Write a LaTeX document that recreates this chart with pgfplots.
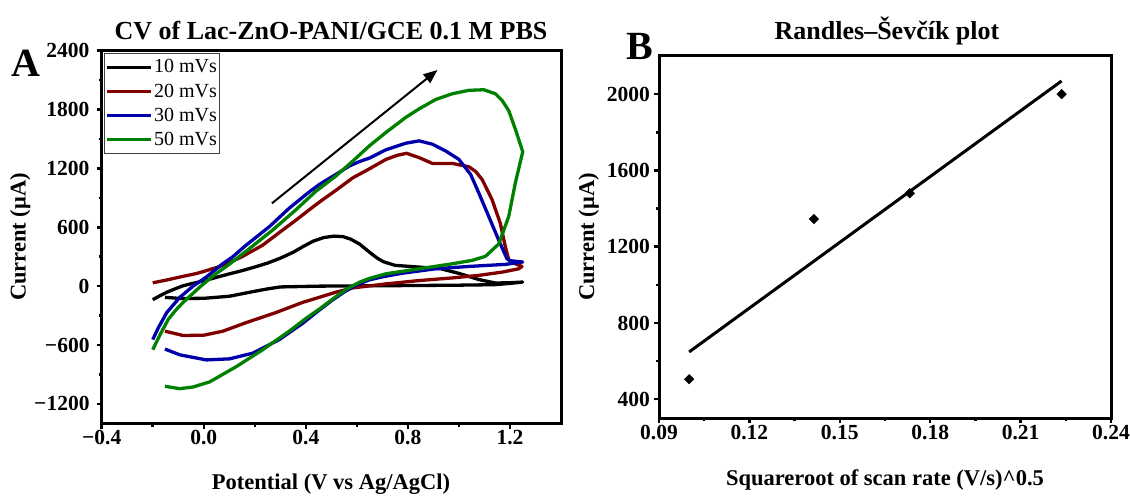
\documentclass[border=0pt]{standalone}
\usepackage{fontspec}
\setmainfont{Liberation Serif}
\usepackage{pgfplots}
\pgfplotsset{compat=1.18}
\usetikzlibrary{arrows.meta}

\definecolor{cvred}{RGB}{128,0,0}
\definecolor{cvblue}{RGB}{0,0,170}
\definecolor{cvgreen}{RGB}{0,128,0}

\pgfplotsset{
  panel/.style={
    scale only axis, anchor=south west,
    axis line style={line width=3pt},
    tick align=outside, xtick pos=bottom, ytick pos=left,
    major tick length=5pt, minor tick length=3pt,
    tick style={line width=2.5pt, black},
    minor tick num=1,
    tick label style={font=\fontsize{21.5}{21.5}\selectfont\bfseries, inner sep=2pt},
  },
}

\begin{document}
\begin{tikzpicture}[x=1pt,y=1pt]
\path (0,0) rectangle (1130,496);

% ---- A: cyclic voltammograms
\begin{axis}[panel,
  at={(101.7pt,72.5pt)}, width=459.3pt, height=372.8pt,
  xmin=-0.4, xmax=1.4, ymin=-1400, ymax=2400,
  xtick={-0.4,0,0.4,0.8,1.2}, xticklabels={−0.4,0.0,0.4,0.8,1.2},
  ytick={-1200,-600,0,600,1200,1800,2400},
  yticklabels={−1200,−600,0,600,1200,1800,2400},
  yticklabel style={xshift=-5pt},
  legend style={at={(0,1)}, anchor=north west, xshift=2.5pt, yshift=-2pt,
    draw=black!75, line width=0.8pt, inner xsep=1pt, inner ysep=5pt,
    font=\fontsize{20}{20}\selectfont, row sep=6.5pt,
    nodes={inner sep=1.5pt}},
  legend cell align=left,
  legend image code/.code={\draw[#1, line width=3pt] (0pt,0pt) -- (44pt,0pt);},
]
\addplot[black, line width=3.3pt, line join=round] coordinates {
(-0.200,-138) (-0.170,-95) (-0.145,-62) (-0.110,-25) (-0.080,5) (-0.040,30)
(0.000,55) (0.050,90) (0.100,125) (0.150,158) (0.200,195) (0.250,235)
(0.300,285) (0.350,345) (0.390,405) (0.430,460) (0.470,495) (0.510,510)
(0.545,505) (0.575,480) (0.610,430) (0.650,345) (0.680,285) (0.705,248)
(0.750,212) (0.840,195) (0.930,177) (1.000,130) (1.080,66) (1.143,32)
(1.200,35) (1.250,42)
(1.200,28) (1.140,15) (1.000,10) (0.800,6) (0.600,3) (0.450,0) (0.300,-8)
(0.250,-28) (0.200,-52) (0.100,-103) (0.000,-124) (-0.090,-126) (-0.152,-114)};
\addlegendentry{10 mVs}
\addplot[cvred, line width=3.3pt, line join=round] coordinates {
(-0.200,34) (-0.150,60) (-0.094,93) (-0.030,128) (0.000,150) (0.050,190)
(0.100,240) (0.150,300) (0.231,418) (0.309,572) (0.360,670) (0.413,778)
(0.460,870) (0.517,975) (0.584,1104) (0.649,1196) (0.714,1292) (0.760,1335)
(0.795,1354) (0.844,1310) (0.896,1251) (0.974,1251) (1.039,1217) (1.065,1170)
(1.091,1087) (1.130,881) (1.162,641) (1.182,401) (1.195,270) (1.210,240)
(1.247,201)
(1.234,177) (1.169,143) (1.078,110) (0.974,84) (0.844,57) (0.714,23)
(0.584,-18) (0.517,-62) (0.455,-112) (0.387,-166) (0.283,-269) (0.166,-372)
(0.075,-459) (0.000,-500) (-0.081,-503) (-0.152,-459)};
\addlegendentry{20 mVs}
\addplot[cvblue, line width=3.3pt, line join=round] coordinates {
(-0.200,-545) (-0.178,-424) (-0.145,-269) (-0.094,-114) (-0.042,0) (0.010,93)
(0.075,230) (0.114,300) (0.166,418) (0.257,606) (0.335,795) (0.413,960)
(0.455,1040) (0.517,1138) (0.571,1225) (0.610,1270) (0.649,1305) (0.714,1390)
(0.792,1457) (0.844,1481) (0.896,1447) (0.948,1378) (1.000,1292) (1.046,1138)
(1.078,949) (1.117,709) (1.156,469) (1.188,280) (1.200,260) (1.234,250)
(1.250,246)
(1.182,222) (1.039,201) (0.909,177) (0.779,132) (0.700,95) (0.649,64)
(0.600,15) (0.550,-60) (0.500,-150) (0.450,-250) (0.387,-380) (0.296,-545)
(0.192,-683) (0.101,-741) (0.010,-752) (-0.094,-700) (-0.152,-641)};
\addlegendentry{30 mVs}
\addplot[cvgreen, line width=3.3pt, line join=round] coordinates {
(-0.200,-648) (-0.171,-493) (-0.139,-338) (-0.110,-245) (-0.081,-166)
(-0.016,-10) (0.023,75) (0.049,128) (0.101,225) (0.179,383) (0.270,572)
(0.361,778) (0.439,967) (0.517,1121) (0.584,1275) (0.649,1430) (0.714,1567)
(0.792,1721) (0.844,1807) (0.909,1903) (0.974,1961) (1.039,1996) (1.097,2002)
(1.143,1961) (1.170,1890) (1.195,1790) (1.221,1601) (1.250,1370)
(1.221,1052) (1.195,709) (1.156,430) (1.104,304) (1.052,263) (0.974,228)
(0.844,177) (0.714,126) (0.650,80) (0.610,40) (0.560,-30) (0.519,-105)
(0.455,-230) (0.400,-330) (0.335,-459) (0.231,-648) (0.127,-821) (0.023,-976)
(-0.042,-1028) (-0.094,-1045) (-0.152,-1021)};
\addlegendentry{50 mVs}
\draw[-{Triangle[length=14pt,width=11pt]}, line width=2pt]
  (axis cs:0.267,844) -- (axis cs:0.916,2203);
\end{axis}

% ---- B: Randles-Sevcik plot
\begin{axis}[panel,
  at={(659pt,77.7pt)}, width=452pt, height=362.3pt,
  xmin=0.09, xmax=0.24, ymin=300, ymax=2200,
  xtick={0.09,0.12,0.15,0.18,0.21,0.24},
  xticklabels={0.09,0.12,0.15,0.18,0.21,0.24},
  ytick={400,800,1200,1600,2000},
  yticklabels={400,800,1200,1600,2000},
  yticklabel style={xshift=-2pt},
]
\addplot[only marks, mark=square*, mark size=3.4pt,
  mark options={rotate=45, fill=black, draw=black}] coordinates {
(0.1000,505) (0.1414,1345) (0.1732,1480) (0.2236,2000)};
\addplot[black, line width=3pt] coordinates {(0.1000,648) (0.2236,2069)};
\end{axis}

% ---- titles and labels
\node[anchor=base, font=\fontsize{26}{26}\selectfont\bfseries] at (331,456.5)
  {CV of Lac-ZnO-PANI/GCE 0.1 M PBS};
\node[anchor=base, font=\fontsize{26}{26}\selectfont\bfseries] at (887,456.5)
  {Randles–Ševčík plot};
\node[anchor=base, font=\fontsize{22.5}{22.5}\selectfont\bfseries] at (331,7)
  {Potential (V vs Ag/AgCl)};
\node[anchor=base, font=\fontsize{22.5}{22.5}\selectfont\bfseries] at (885,11)
  {Squareroot of scan rate (V/s)\textasciicircum 0.5};
\node[anchor=base, rotate=90, font=\fontsize{22.5}{22.5}\selectfont\bfseries]
  at (25.5,259) {Current (μA)};
\node[anchor=base, rotate=90, font=\fontsize{22.5}{22.5}\selectfont\bfseries]
  at (594,259) {Current (μA)};
\node[anchor=base west, inner sep=0pt, font=\fontsize{40}{40}\selectfont\bfseries]
  at (11,419.3) {A};
\node[anchor=base west, inner sep=0pt, font=\fontsize{40}{40}\selectfont\bfseries]
  at (626,436) {B};

\pgfresetboundingbox
\useasboundingbox (0,0) rectangle (1130,496);
\end{tikzpicture}
\end{document}
